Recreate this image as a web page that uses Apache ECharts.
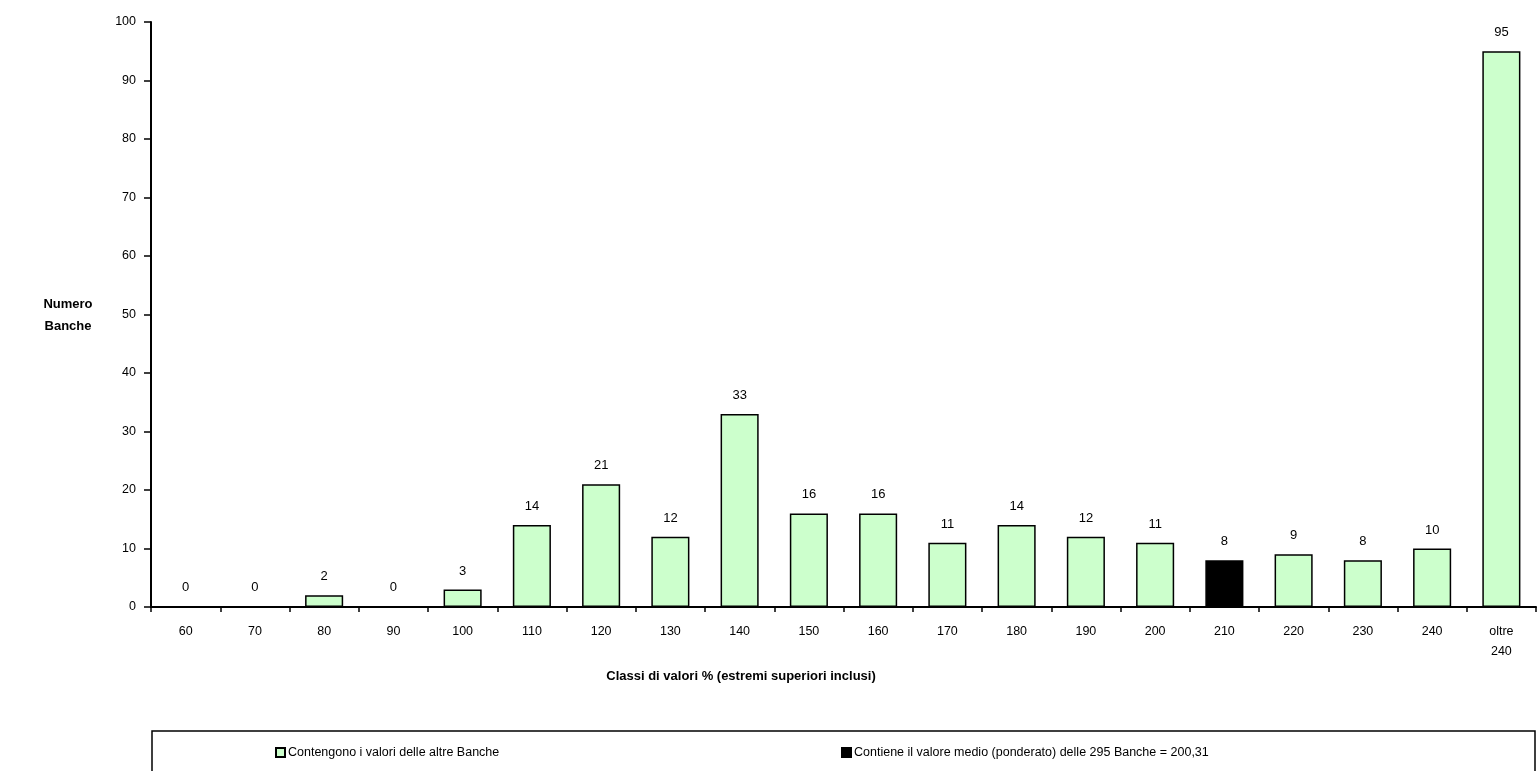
<!DOCTYPE html>
<html>
<head>
<meta charset="utf-8">
<script src="https://cdn.jsdelivr.net/npm/echarts@6/dist/echarts.min.js"></script>
<style>
  html, body { margin: 0; padding: 0; background: #fff; }
  #chart { width: 1539px; height: 771px; }
</style>
</head>
<body>
<div id="chart"></div>
<script>
// classi di valori (estremi superiori inclusi)
const categories = ['60', '70', '80', '90', '100', '110', '120', '130', '140', '150',
  '160', '170', '180', '190', '200', '210', '220', '230', '240', 'oltre\n240']
// numero banche per classe
const altreBanche = [0, 0, 2, 0, 3, 14, 21, 12, 33, 16, 16, 11, 14, 12, 11, '-', 9, 8, 10, 95]
const classeMedia = ['-', '-', '-', '-', '-', '-', '-', '-', '-', '-', '-', '-', '-', '-', '-', 8, '-', '-', '-', '-']
const yTicks = { min: 0, max: 100, interval: 10 }

const nameAltre = 'Contengono i valori delle altre Banche'
const nameMedia = 'Contiene il valore medio (ponderato) delle 295 Banche = 200,31'

const font = 'Arial, "Liberation Sans", sans-serif'
const chart = echarts.init(document.getElementById('chart'))

const labelStyle = {
  show: true,
  position: 'top',
  distance: 12,
  color: '#000',
  fontFamily: font,
  fontSize: 13
}

const legendCommon = {
  top: 741,
  itemWidth: 9,
  itemHeight: 9,
  icon: 'rect',
  textStyle: { color: '#000', fontFamily: font, fontSize: 12.5, padding: [0, 0, 0, -2] }
}

chart.setOption({
  animation: false,
  backgroundColor: '#fff',
  grid: { left: 151, right: 3, top: 22, bottom: 164 },
  legend: [
    { ...legendCommon, data: [nameAltre], left: 270 },
    { ...legendCommon, data: [nameMedia], left: 836 }
  ],
  graphic: [
    {
      type: 'rect',
      shape: { x: 152, y: 731, width: 1383, height: 60 },
      style: { fill: 'none', stroke: '#000', lineWidth: 1.5 },
      z: -1
    },
    {
      type: 'text',
      x: 68, y: 293,
      style: {
        text: 'Numero\nBanche',
        fill: '#000',
        font: 'bold 13px ' + font,
        textAlign: 'center',
        lineHeight: 22
      }
    },
    {
      type: 'text',
      x: 741, y: 670,
      style: {
        text: 'Classi di valori % (estremi superiori inclusi)',
        fill: '#000',
        font: 'bold 13px ' + font,
        textAlign: 'center'
      }
    }
  ],
  xAxis: {
    type: 'category',
    data: categories,
    axisLine: { lineStyle: { color: '#000', width: 2 } },
    axisTick: { show: true, length: 5, lineStyle: { color: '#000', width: 1.5 } },
    axisLabel: {
      color: '#000', fontFamily: font, fontSize: 12.5, margin: 15, lineHeight: 20,
      interval: 0
    }
  },
  yAxis: {
    type: 'value',
    min: yTicks.min,
    max: yTicks.max,
    interval: yTicks.interval,
    axisLine: { show: true, lineStyle: { color: '#000', width: 2 } },
    axisTick: { show: true, length: 7, lineStyle: { color: '#000', width: 1.5 } },
    splitLine: { show: false },
    axisLabel: { color: '#000', fontFamily: font, fontSize: 12.5, margin: 15 }
  },
  series: [
    {
      name: nameAltre,
      type: 'bar',
      data: altreBanche,
      barWidth: '55%',
      barGap: '-100%',
      itemStyle: { color: '#ccffcc', borderColor: '#000', borderWidth: 1.5 },
      label: labelStyle
    },
    {
      name: nameMedia,
      type: 'bar',
      data: classeMedia,
      barWidth: '55%',
      itemStyle: { color: '#000', borderColor: '#000', borderWidth: 1.5 },
      label: labelStyle
    }
  ]
})
</script>
</body>
</html>
